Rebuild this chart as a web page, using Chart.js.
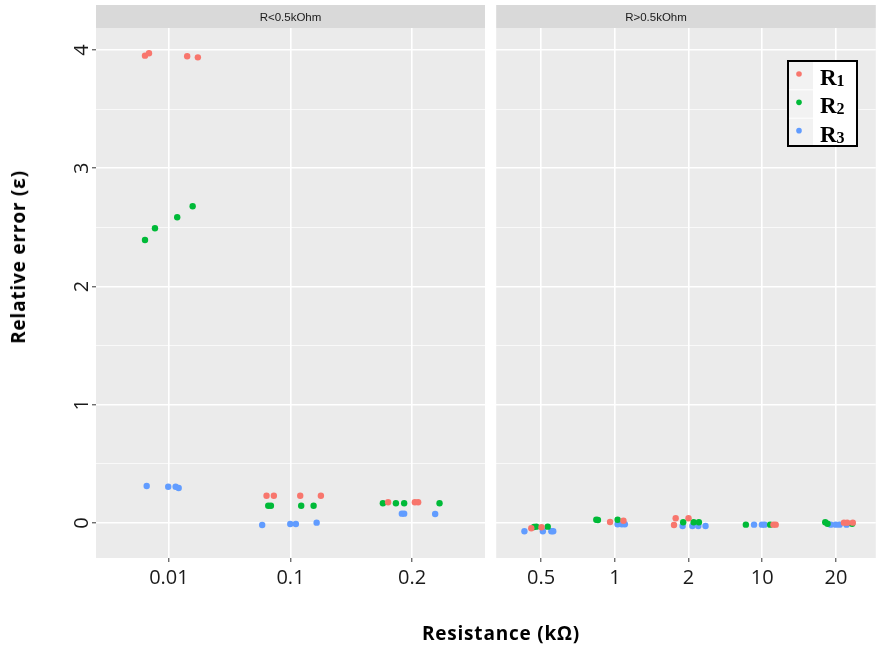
<!DOCTYPE html>
<html>
<head>
<meta charset="utf-8">
<script src="https://cdn.jsdelivr.net/npm/chart.js@4.4.1/dist/chart.umd.min.js"></script>
<style>
  body { margin: 0; background: #fff; }
  #wrap { position: relative; width: 879px; height: 651px; overflow: hidden; font-family: "Open Sans", sans-serif; }
  #leftBox { position: absolute; left: 0; top: 0; width: 490px; height: 651px; }
  #rightBox { position: absolute; left: 493px; top: 0; width: 386px; height: 651px; }
  .ytitle { position: absolute; left: 18px; top: 257px; transform: translate(-50%, -50%) rotate(-90deg);
            font-weight: bold; font-size: 19px; letter-spacing: 0.8px; white-space: nowrap; color: #000; }
  .xtitle { position: absolute; left: 501px; top: 633px; transform: translate(-50%, -50%);
            font-weight: bold; font-size: 19px; letter-spacing: 0.8px; white-space: nowrap; color: #000; }
</style>
</head>
<body>
<div id="wrap">
  <div id="leftBox"><canvas id="leftPanel"></canvas></div>
  <div id="rightBox"><canvas id="rightPanel"></canvas></div>
  <div class="ytitle">Relative error (ε)</div>
  <div class="xtitle">Resistance (kΩ)</div>
</div>
<script>
// categories per facet
let leftCategories = ['0.01', '0.1', '0.2'];
let rightCategories = ['0.5', '1', '2', '10', '20'];
let seriesNames = ['R1', 'R2', 'R3'];
let seriesColors = ['#F8766D', '#00BA38', '#619CFF'];
let yTickValues = [0, 0.5, 1, 1.5, 2, 2.5, 3, 3.5, 4];

// jittered positions (1 = first category) and relative error
let r1LeftX = [0.803, 0.836, 1.150, 1.238, 1.803, 1.863, 2.080, 2.250, 2.803, 3.023, 3.050];
let r1LeftY = [3.952, 3.972, 3.947, 3.938, 0.231, 0.231, 0.231, 0.231, 0.175, 0.175, 0.175];
let r2LeftX = [0.803, 0.885, 1.068, 1.195, 1.817, 1.839, 2.088, 2.190, 2.760, 2.867, 2.935, 3.226];
let r2LeftY = [2.393, 2.492, 2.585, 2.678, 0.146, 0.146, 0.146, 0.146, 0.167, 0.167, 0.167, 0.167];
let r3LeftX = [0.817, 0.994, 1.055, 1.080, 1.767, 1.998, 2.044, 2.215, 2.916, 2.935, 3.190];
let r3LeftY = [0.313, 0.307, 0.307, 0.296, -0.017, -0.008, -0.008, 0.003, 0.079, 0.079, 0.076];

let r1RightX = [0.866, 1.004, 1.935, 2.117, 2.825, 2.999, 2.802, 4.151, 4.182, 5.108, 5.152, 5.228];
let r1RightY = [-0.045, -0.036, 0.008, 0.019, 0.040, 0.040, -0.017, -0.014, -0.014, 0.003, 0.003, 0.003];
let r2RightX = [0.903, 0.933, 1.089, 1.748, 1.770, 2.037, 2.927, 3.069, 3.140, 3.777, 4.107, 4.854, 4.885, 5.219];
let r2RightY = [-0.034, -0.031, -0.031, 0.028, 0.025, 0.028, 0.006, 0.006, 0.006, -0.014, -0.014, 0.006, -0.006, -0.006];
let r3RightX = [0.773, 1.023, 1.138, 1.164, 2.037, 2.095, 2.135, 2.919, 3.052, 3.132, 3.230, 3.888, 3.995, 4.031, 4.929, 4.996, 5.049, 5.143];
let r3RightY = [-0.070, -0.070, -0.070, -0.070, -0.011, -0.011, -0.011, -0.025, -0.025, -0.025, -0.025, -0.014, -0.014, -0.014, -0.014, -0.014, -0.014, -0.014];

Chart.defaults.font.family = '"Open Sans", sans-serif';

function pts(xs, ys) {
  return xs.map((x, i) => ({ x: x, y: ys[i] }));
}

function makeSets(groups) {
  return groups.map((g, i) => ({
    label: seriesNames[i],
    data: pts(g[0], g[1]),
    backgroundColor: seriesColors[i],
    borderWidth: 0,
    pointRadius: 3.2,
    pointHoverRadius: 3.2
  }));
}

// grey panel + facet strip
const panelDeco = {
  id: 'panelDeco',
  beforeDraw(chart, args, opts) {
    const { ctx, chartArea: a } = chart;
    ctx.save();
    ctx.fillStyle = '#EBEBEB';
    ctx.fillRect(a.left, a.top, a.right - a.left, a.bottom - a.top);
    ctx.fillStyle = '#D9D9D9';
    ctx.fillRect(a.left, 5, a.right - a.left, a.top - 5);
    ctx.fillStyle = '#1A1A1A';
    ctx.font = '11.5px "Liberation Sans", Arial, sans-serif';
    ctx.textAlign = 'center';
    ctx.textBaseline = 'middle';
    ctx.fillText(opts.label, opts.labelX != null ? opts.labelX : (a.left + a.right) / 2, (5 + a.top) / 2 + 1);
    ctx.restore();
  }
};

// boxed legend inside the right panel
const legendBox = {
  id: 'legendBox',
  afterDraw(chart) {
    if (!chart.options.plugins.legendBox.show) return;
    const ctx = chart.ctx;
    const x0 = 295, y0 = 61, w = 69, h = 85;
    ctx.save();
    ctx.fillStyle = '#FFFFFF';
    ctx.fillRect(x0, y0, w, h);
    chart.data.datasets.forEach((ds, i) => {
      const ky = y0 + i * h / 3;
      ctx.fillStyle = '#F2F2F2';
      ctx.fillRect(x0 + 1, ky + 1, 24, h / 3 - 1);
      ctx.fillStyle = ds.backgroundColor;
      ctx.beginPath();
      ctx.arc(x0 + 11, ky + 13, 2.8, 0, Math.PI * 2);
      ctx.fill();
      ctx.fillStyle = '#000';
      ctx.textAlign = 'left';
      ctx.textBaseline = 'alphabetic';
      ctx.font = 'bold 23px "Liberation Serif", serif';
      ctx.fillText(ds.label[0], x0 + 32, ky + 24);
      const rw = ctx.measureText(ds.label[0]).width;
      ctx.font = 'bold 16px "Liberation Serif", serif';
      ctx.fillText(ds.label.slice(1), x0 + 32 + rw, ky + 25);
    });
    ctx.strokeStyle = '#000';
    ctx.lineWidth = 2;
    ctx.strokeRect(x0, y0, w, h);
    ctx.restore();
  }
};

function xScale(min, max, labels) {
  return {
    type: 'linear', min: min, max: max,
    afterBuildTicks: s => { s.ticks = labels.map((_, i) => ({ value: i + 1 })); },
    afterFit: s => { s.height = 93; },
    border: { display: false },
    grid: { color: '#FFFFFF', lineWidth: 1.6, tickColor: '#333333', tickLength: 4, tickWidth: 1 },
    ticks: { callback: v => labels[v - 1], color: '#1A1A1A', font: { size: 20 }, padding: 4, autoSkip: false, maxRotation: 0 }
  };
}

function yScale(showLabels) {
  return {
    type: 'linear', min: -0.296, max: 4.186,
    afterBuildTicks: s => { s.ticks = yTickValues.map(v => ({ value: v })); },
    afterFit: s => { s.width = showLabels ? 96 : 0; },
    border: { display: false },
    grid: {
      color: '#FFFFFF',
      lineWidth: c => (c.tick && Number.isInteger(c.tick.value)) ? 1.6 : 0.7,
      tickColor: c => (c.tick && Number.isInteger(c.tick.value)) ? '#333333' : 'rgba(0,0,0,0)',
      tickLength: 4, tickWidth: 1, drawTicks: showLabels
    },
    ticks: {
      display: showLabels,
      callback: v => Number.isInteger(v) ? String(v) : '',
      minRotation: 90, maxRotation: 90, crossAlign: 'center',
      padding: 4, color: '#1A1A1A', font: { size: 20 }, autoSkip: false
    }
  };
}

new Chart('leftPanel', {
  type: 'scatter',
  data: { datasets: makeSets([[r1LeftX, r1LeftY], [r2LeftX, r2LeftY], [r3LeftX, r3LeftY]]) },
  plugins: [panelDeco, legendBox],
  options: {
    responsive: true, maintainAspectRatio: false, animation: false, events: [],
    layout: { padding: { top: 28, right: 5, bottom: 0, left: 0 } },
    scales: { x: xScale(0.4, 3.6, leftCategories), y: yScale(true) },
    plugins: {
      legend: { display: false }, tooltip: { enabled: false },
      panelDeco: { label: 'R<0.5kOhm' },
      legendBox: { show: false }
    }
  }
});

new Chart('rightPanel', {
  type: 'scatter',
  data: { datasets: makeSets([[r1RightX, r1RightY], [r2RightX, r2RightY], [r3RightX, r3RightY]]) },
  plugins: [panelDeco, legendBox],
  options: {
    responsive: true, maintainAspectRatio: false, animation: false, events: [],
    layout: { padding: { top: 28, right: 0, bottom: 0, left: 0 } },
    scales: { x: xScale(0.39, 5.54, rightCategories), y: yScale(false) },
    plugins: {
      legend: { display: false }, tooltip: { enabled: false },
      panelDeco: { label: 'R>0.5kOhm', labelX: 163 },
      legendBox: { show: true }
    }
  }
});
</script>
</body>
</html>
